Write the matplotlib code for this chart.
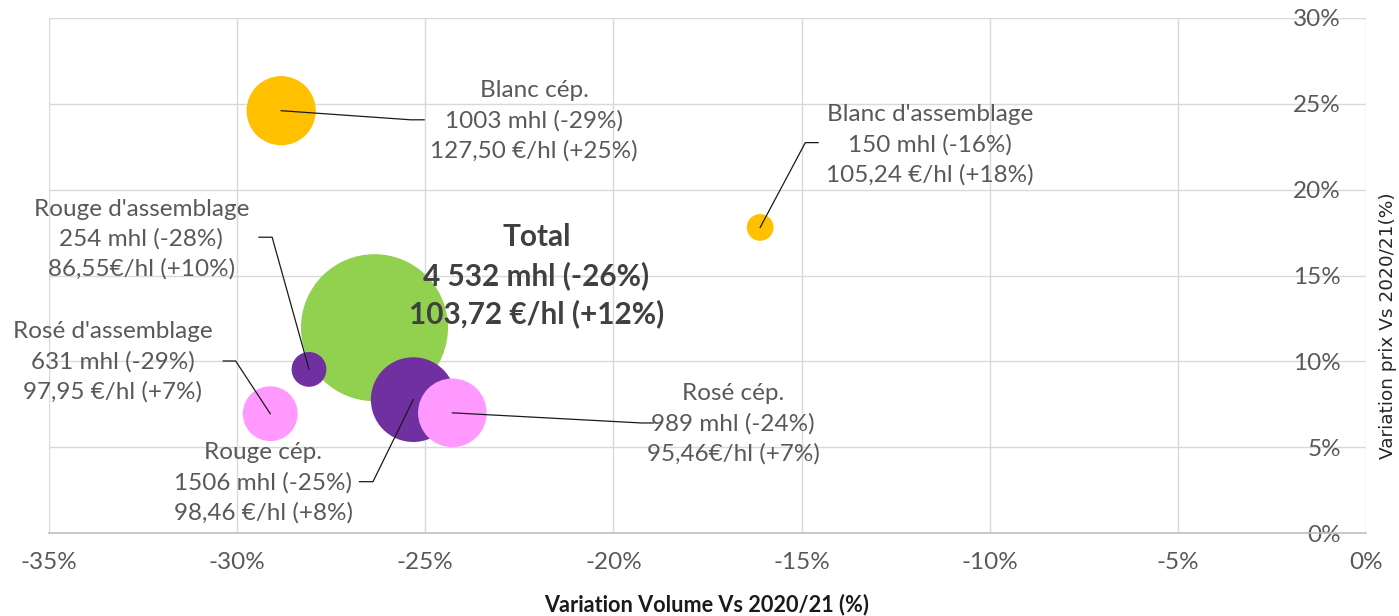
import matplotlib
matplotlib.use("Agg")
import matplotlib.pyplot as plt
from matplotlib.ticker import FuncFormatter

plt.rcParams['font.family'] = ['Lato', 'DejaVu Sans']

# ---- data ----
names = ["Total", "Rouge cép.", "Blanc cép.", "Rosé cép.", "Rosé d'assemblage",
         "Rouge d'assemblage", "Blanc d'assemblage"]
vol_change = [-26.35, -25.32, -28.83, -24.28, -29.12, -28.09, -16.10]   # % x
price_change = [11.96, 7.77, 24.6, 7.0, 6.95, 9.53, 17.8]               # % y
volumes = [4532, 1506, 1003, 989, 631, 254, 150]                        # mhl (bubble size)
labels = [
    "Total\n4 532 mhl (-26%)\n103,72 €/hl (+12%)",
    "Rouge cép.\n1506 mhl (-25%)\n98,46 €/hl (+8%)",
    "Blanc cép.\n1003 mhl (-29%)\n127,50 €/hl (+25%)",
    "Rosé cép.\n989 mhl (-24%)\n95,46€/hl (+7%)",
    "Rosé d'assemblage\n631 mhl (-29%)\n97,95 €/hl (+7%)",
    "Rouge d'assemblage\n254 mhl (-28%)\n86,55€/hl (+10%)",
    "Blanc d'assemblage\n150 mhl (-16%)\n105,24 €/hl (+18%)",
]
x_ticks = [-35, -30, -25, -20, -15, -10, -5, 0]
y_ticks = [0, 5, 10, 15, 20, 25, 30]

# ---- styles / layout ----
colors = ["#92D050", "#7030A0", "#FFC000", "#FF99FF", "#FF99FF", "#7030A0", "#FFC000"]
label_pos = [(-22.05, 14.98), (-29.31, 2.91), (-22.11, 24.0), (-16.82, 6.35),
             (-33.31, 9.97), (-32.55, 17.1), (-11.58, 22.6)]
# leader: (text end, elbow)
leaders = [None,
           ((-26.75, 2.99), (-26.39, 2.99)),
           ((-25.03, 24.07), (-25.39, 24.07)),
           ((-18.94, 6.41), (-19.26, 6.41)),
           ((-30.37, 10.02), (-30.04, 10.02)),
           ((-29.42, 17.23), (-29.07, 17.23)),
           ((-14.56, 22.74), (-14.90, 22.74))]

W, H = 1399, 616
fig = plt.figure(figsize=(W / 100, H / 100), dpi=100)
ax = fig.add_axes([49 / W, 1 - 533 / H, (1366 - 49) / W, (533 - 18) / H])
ax.set_xlim(-35, 0)
ax.set_ylim(0, 30)

ax.set_xticks(x_ticks)
ax.set_yticks(y_ticks)
ax.grid(True, color="#d9d9d9", linewidth=1.0, zorder=0)
ax.set_axisbelow(True)
for s in ["top", "left", "right"]:
    ax.spines[s].set_visible(False)
ax.spines["bottom"].set_color("#bfbfbf")
ax.spines["bottom"].set_linewidth(1.2)

pct = FuncFormatter(lambda v, p: f"{int(round(v))}%")
ax.xaxis.set_major_formatter(pct)
ax.yaxis.set_major_formatter(pct)
ax.tick_params(axis="both", length=0, labelsize=17.5, labelcolor="#595959")
ax.tick_params(axis="x", pad=14)
# y tick labels drawn to the left of the right edge (axis at x=0)
ax.yaxis.tick_right()
for t in ax.get_yticklabels():
    t.set_horizontalalignment("right")
ax.tick_params(axis="y", pad=-18)

# bubbles: radius(px) ~ 1.092*sqrt(volume) -> s in pt^2
k = (2 * 1.092 * 0.72) ** 2
for i in range(len(names)):
    ax.scatter(vol_change[i], price_change[i], s=volumes[i] * k, color=colors[i],
               edgecolors="none", zorder=2 + i * 0.01)

for i in range(len(names)):
    lx, ly = label_pos[i]
    if names[i] == "Total":
        ax.text(lx, ly, labels[i], ha="center", va="center", fontsize=21.4,
                fontweight="bold", color="#404040", linespacing=1.41, zorder=5)
    else:
        ax.text(lx, ly, labels[i], ha="center", va="center", fontsize=17.5,
                color="#595959", linespacing=1.49, zorder=5)
    if leaders[i] is not None:
        (ex, ey), (bx, by) = leaders[i]
        ax.plot([ex, bx, vol_change[i]], [ey, by, price_change[i]], color="#1a1a1a",
                linewidth=0.9, zorder=4)

fig.text(707 / W, 1 - 605 / H, "Variation Volume Vs 2020/21 (%)", ha="center",
         va="center", fontsize=15.6, fontweight="bold", color="#1a1a1a")
fig.text(1388 / W, 1 - 326 / H, "Variation prix Vs 2020/21(%)", ha="center",
         va="center", rotation=90, fontsize=13.3, color="#262626",
         family=["DejaVu Sans"])

fig.savefig("out.png", dpi=100)
